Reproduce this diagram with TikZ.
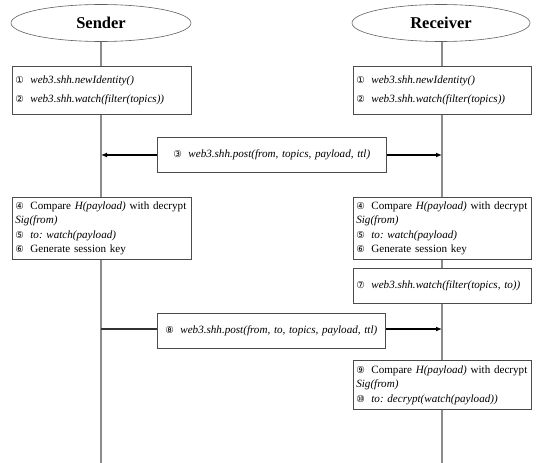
\documentclass[tikz,border=0pt]{standalone}
\usepackage{fontspec}
\setmainfont{Liberation Serif}
\newfontfamily\circfont{DejaVu Sans}
\usetikzlibrary{shapes.geometric,arrows.meta}
\hyphenpenalty=10000
\exhyphenpenalty=10000
\newcommand\cnum[1]{{\circfont\fontsize{9.5}{9.5}\selectfont #1}\hspace{6.5pt}\ignorespaces}
\tikzset{
  actor/.style={ellipse, draw=gray!75!black, line width=0.6pt, fill=white,
    minimum height=37pt, font=\fontsize{16.5}{18}\selectfont\bfseries},
  lifeline/.style={draw=gray!90, line width=1.1pt},
  msgbox/.style={draw=gray!60!black, line width=0.7pt, fill=white, anchor=north west,
    inner xsep=3pt, inner ysep=0pt, align=left,
    font=\fontsize{11.1}{14.5}\selectfont},
  msg/.style={line width=1.3pt, black, -{Latex[length=6pt,width=5pt]}},
  plain/.style={line width=1.3pt, black!80}
}
\begin{document}
\begin{tikzpicture}[x=1pt,y=-1pt]
\useasboundingbox (0,0) rectangle (536,463);
\node[actor, minimum width=180pt] (sender) at (101,23) {Sender};
\node[actor, minimum width=178pt] (receiver) at (441,23) {Receiver};
\coordinate (sEnd) at (101,463);
\coordinate (rEnd) at (442,463);
\draw[lifeline] (sender.south) -- (sEnd);
\draw[lifeline] (receiver.south -| rEnd) -- (rEnd);

% boxes 1
\node[msgbox, text width=173pt, minimum height=48pt] (s1) at (12,66)
  {\cnum{①}\textit{web3.shh.newIdentity()}\\[4.5pt]\cnum{②}\textit{web3.shh.watch(filter(topics))}};
\node[msgbox, text width=172pt, minimum height=48pt] (r1) at (353,66)
  {\cnum{①}\textit{web3.shh.newIdentity()}\\[4.5pt]\cnum{②}\textit{web3.shh.watch(filter(topics))}};

% message 3
\node[msgbox, align=center, text width=223pt, minimum height=35pt] (m3) at (157,137)
  {\cnum{③}\textit{web3.shh.post(from, topics, payload, ttl)}};
\coordinate (m3s) at (101,155);
\coordinate (m3r) at (442,155);
\draw[msg] (m3.west |- m3s) -- (m3s);
\draw[msg] (m3.east |- m3r) -- (m3r);

% boxes 4
\node[msgbox, text width=173pt, minimum height=62pt] (s4) at (12,197)
  {\cnum{④}Compare \textit{H(payload)} with decrypt\\ \textit{Sig(from)}\\ \cnum{⑤}\textit{to:\ watch(payload)}\\ \cnum{⑥}Generate session key};
\node[msgbox, text width=172pt, minimum height=62pt] (r4) at (353,197)
  {\cnum{④}Compare \textit{H(payload)} with decrypt\\ \textit{Sig(from)}\\ \cnum{⑤}\textit{to:\ watch(payload)}\\ \cnum{⑥}Generate session key};

% box 7
\node[msgbox, text width=172pt, minimum height=35pt] (r7) at (353,268)
  {\raisebox{-2pt}{\cnum{⑦}\textit{web3.shh.watch(filter(topics, to))}}};

% message 8
\node[msgbox, align=center, text width=222pt, minimum height=35pt] (m8) at (157,313)
  {\cnum{⑧}\textit{web3.shh.post(from, to, topics, payload, ttl)}};
\coordinate (m8s) at (101,329);
\coordinate (m8r) at (442,329);
\draw[plain] (m8s) -- (m8.west |- m8s);
\draw[msg] (m8.east |- m8r) -- (m8r);

% box 9
\node[msgbox, text width=172pt, minimum height=49pt] (r9) at (353,360)
  {\cnum{⑨}Compare \textit{H(payload)} with decrypt\\ \textit{Sig(from)}\\ \cnum{⑩}\textit{to:\ decrypt(watch(payload))}};
\end{tikzpicture}
\end{document}
